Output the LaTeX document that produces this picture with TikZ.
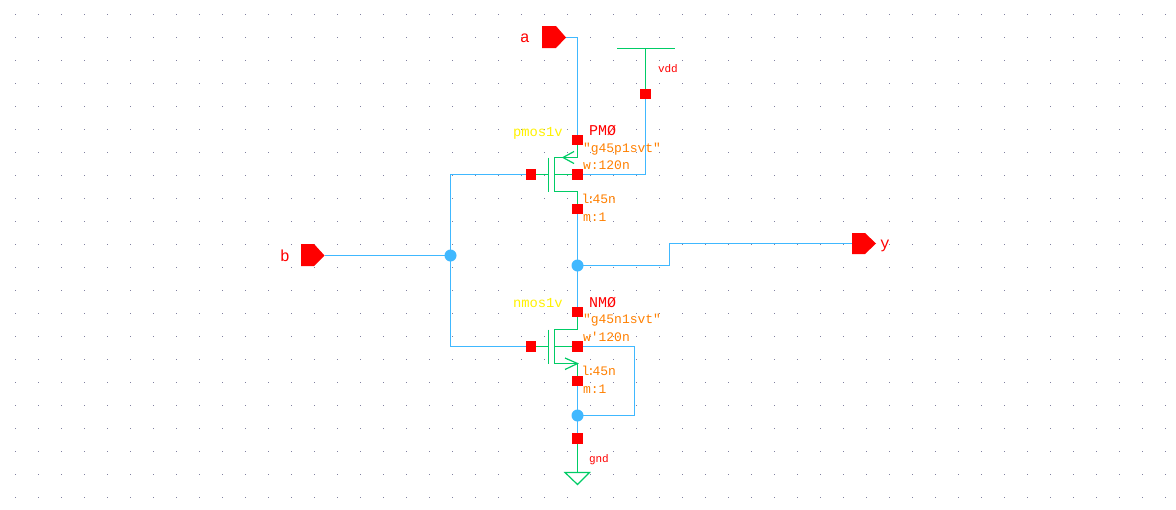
\documentclass[tikz,border=0pt]{standalone}
\usepackage{fontspec}
\setmonofont{Liberation Mono}
\pgfdeclarelayer{griddots}
\pgfdeclarelayer{labels}
\pgfdeclarelayer{wires}
\pgfsetlayers{griddots,labels,wires,main}
\definecolor{wireblue}{RGB}{64,184,255}
\definecolor{devgreen}{RGB}{0,204,102}
\definecolor{textorange}{RGB}{255,128,0}
\definecolor{griddot}{RGB}{128,128,160}
\newcommand{\lsize}{\kern-1.5pt l\kern-2.2pt:\kern-2.4pt 45n}
\tikzset{
  x=1pt,y=-1pt,
  wire/.style={draw=wireblue,line width=1.2pt,line join=miter},
  dev/.style={draw=devgreen,line width=1.2pt,line join=miter},
  term/.style={rectangle,fill=red,draw=none,minimum size=10.5pt,inner sep=0pt,outer sep=0pt},
  junct/.style={circle,fill=wireblue,draw=none,minimum size=12pt,inner sep=0pt,outer sep=0pt},
  lab/.style={anchor=base west,inner sep=0pt,outer sep=0pt,font=\ttfamily\fontsize{#1}{#1}\selectfont},
  red lab/.style={lab=#1,text=red},
  org lab/.style={lab=13,text=textorange},
  yel lab/.style={lab=13.8,text=yellow},
  pinshape/.style={fill=red,draw=none},
}
\begin{document}
\begin{tikzpicture}
\useasboundingbox (0,0) rectangle (1176,509);
\begin{pgfonlayer}{griddots}
\fill[white] (0,0) rectangle (1176,509);
\foreach \i in {0,...,50}{
  \foreach \j in {0,...,21}{
    \fill[griddot] ({15+23*\i},{14+23*\j}) rectangle ++(1.4,1.4);
  }
}
\end{pgfonlayer}

% terminals and junctions
\node[term] (pd)  at (577.5,140) {};
\node[term] (pb)  at (577.5,174.5) {};
\node[term] (ps)  at (577.5,209) {};
\node[term] (pg)  at (531,174.5) {};
\node[term] (vt)  at (645.5,94) {};
\node[term] (nd)  at (577.5,312) {};
\node[term] (nb)  at (577.5,346.5) {};
\node[term] (ns)  at (577.5,381) {};
\node[term] (ng)  at (531,346.5) {};
\node[term] (gt)  at (577.5,438.5) {};
\node[junct] (jin)  at (450.5,255.5) {};
\node[junct] (jout) at (577.5,265.5) {};
\node[junct] (jgnd) at (577.5,415.5) {};

% pins
\fill[pinshape] (542,26) -- (556,26) -- (566,37.5) -- (556,48) -- (542,48) -- cycle;
\fill[pinshape] (301,244) -- (314,244) -- (324.5,255.5) -- (314,266) -- (301,266) -- cycle;
\fill[pinshape] (852,233) -- (865,233) -- (876,243.5) -- (865,254) -- (852,254) -- cycle;
\coordinate (pina) at (566,37.5);
\coordinate (pinb) at (324.5,255.5);
\coordinate (piny) at (852,243.5);

% labels
\begin{pgfonlayer}{labels}
\node[red lab=16] (la) at (520,42) {a};
\node[red lab=16] (lb) at (280,261) {b};
\node[red lab=16] (ly) at (880,248) {y};
\node[red lab=11] (lvdd) at (658,72) {vdd};
\node[red lab=11] (lgnd) at (589,462) {gnd};
\node[yel lab] (lp) at (513,136) {pmos1v};
\node[red lab=15] (lpm) at (589,135) {PMØ};
\node[org lab] (lp1) at (583,152) {"g45p1svt"};
\node[org lab] (lp2) at (583,169) {w:120n};
\node[org lab] (lp3) at (583,203) {\lsize};
\node[org lab] (lp4) at (583,221) {m:1};
\node[yel lab] (ln) at (513,307) {nmos1v};
\node[red lab=15] (lnm) at (589,307) {NMØ};
\node[org lab] (ln1) at (583,323) {"g45n1svt"};
\node[org lab] (ln2) at (583,341) {w'120n};
\node[org lab] (ln3) at (583,375) {\lsize};
\node[org lab] (ln4) at (583,393) {m:1};
\end{pgfonlayer}

\begin{pgfonlayer}{wires}
% blue wires
\draw[wire] (pina) -| (pd.center);
\draw[wire] (vt.center) |- (pb.center);
\draw[wire] (pinb) -- (jin.center);
\draw[wire] (pg.center) -| (jin.center);
\draw[wire] (ng.center) -| (jin.center);
\draw[wire] (ps.center) -- (jout.center);
\draw[wire] (jout.center) -- (nd.center);
\draw[wire] (jout.center) -- (669.5,265.5) -- (669.5,243.5) -- (piny);
\draw[wire] (nb.center) -- (634.5,346.5) -- (634.5,415.5) -- (jgnd.center);
\draw[wire] (ns.center) -- (jgnd.center);
\draw[wire] (jgnd.center) -- (gt.center);

% vdd symbol
\coordinate (vddtop) at (645.5,48.5);
\draw[dev] (617,48.5) -- (675,48.5);
\draw[dev] (vddtop) -- (vt.center);

% gnd symbol
\coordinate (gndtop) at (577.5,472.5);
\draw[dev] (gt.center) -- (gndtop);
\draw[dev] (565,472.5) -- (589.5,472.5) -- (577.5,484.5) -- cycle;

% PMOS
\draw[dev] (pg.center) -- (548.5,174.5);
\draw[dev] (548.5,157.5) -- (548.5,191.5);
\draw[dev] (pd.center) -- (577.5,157.5) -- (554.5,157.5) -- (554.5,191.5) -- (577.5,191.5) -- (ps.center);
\draw[dev] (554.5,174.5) -- (pb.center);
\draw[dev] (574,151.5) -- (563,157.5) -- (574,163.5);

% NMOS
\draw[dev] (ng.center) -- (548.5,346.5);
\draw[dev] (548.5,329.5) -- (548.5,363.5);
\draw[dev] (nd.center) -- (577.5,329.5) -- (554.5,329.5) -- (554.5,363.5) -- (577.5,363.5) -- (ns.center);
\draw[dev] (554.5,346.5) -- (nb.center);
\draw[dev] (565,358) -- (577.5,363.5) -- (565,369.5);
\end{pgfonlayer}
\end{tikzpicture}
\end{document}
